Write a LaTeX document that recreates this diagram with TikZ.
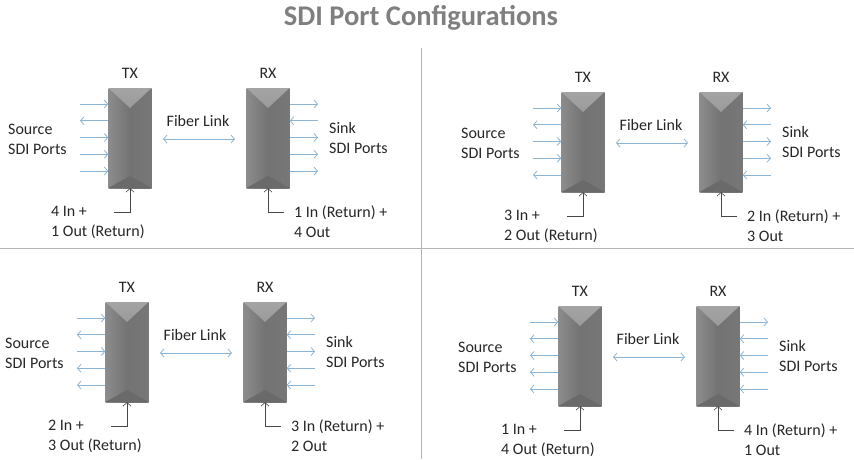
\documentclass[tikz,border=0pt]{standalone}
\usepackage{fontspec}
\setmainfont{Carlito}
\usetikzlibrary{arrows.meta}

\definecolor{portblue}{HTML}{8CB4D4}
\definecolor{rulegray}{HTML}{B4B4B4}
\definecolor{titlegray}{HTML}{7F7F7F}
\definecolor{inkgray}{HTML}{262626}
\definecolor{boxmid}{HTML}{737373}
\definecolor{boxedge}{HTML}{8C8C8C}
\definecolor{boxtop}{HTML}{A4A4A4}
\definecolor{boxbot}{HTML}{6A6A6A}

\begin{document}
\begin{tikzpicture}[x=1pt,y=-1pt,
 >={Straight Barb[length=3.5pt,width=8pt]},
 every node/.style={font=\fontsize{16}{20}\selectfont,text=inkgray,inner sep=0pt},
 box/.style={minimum width=43pt,minimum height=100pt,
   left color=boxedge,right color=boxedge!85!black,middle color=boxmid,
   path picture={
     \shade[top color=boxtop,bottom color=boxmid]
       (path picture bounding box.north west) -- (path picture bounding box.north east)
       -- ([yshift=-20pt]path picture bounding box.north) -- cycle;
     \fill[boxbot]
       (path picture bounding box.south west) -- (path picture bounding box.south east)
       -- ([yshift=12pt]path picture bounding box.south) -- cycle;}},
 port/.style={draw=portblue,line width=0.8pt},
 feed/.style={->,draw=inkgray!85,line width=0.6pt},
 rule/.style={draw=rulegray,line width=1pt},
 txt/.style={align=left,anchor=west}]
\useasboundingbox (0,0) rectangle (854,459);

\node[font=\fontsize{28.5}{34}\selectfont\bfseries,text=titlegray] (title) at (421,18) {SDI Port Configurations};
\draw[rule] (421,48) -- (421,459);
\draw[rule] (0,248) -- (854,248);

% one quadrant per configuration
\foreach \q/\ox/\oy/\nin/\nout/\dirs in
  {1/130/88/4/1/{->,<-,->,->,->},
   2/583/92/3/2/{->,<-,->,->,<-},
   3/127/302/2/3/{->,<-,->,<-,<-},
   4/580/306/1/4/{->,<-,<-,<-,<-}}{
\begin{scope}[shift={(\ox,\oy)}]
\node[box] (tx\q) at (0,50) {};
\node[box] (rx\q) at (138,50) {};
\node (txl\q) at (0,-15) {TX};
\node (rxl\q) at (138,-15) {RX};
\node[txt] (src\q) at (-122,51) {Source\\SDI Ports};
\node[txt] (snk\q) at (199,50) {Sink\\SDI Ports};
\node (fib\q) at (68,33) {Fiber Link};
\coordinate (fa\q) at (33,51);
\coordinate (fb\q) at (105,51);
\draw[port,<->] (fa\q) -- (fb\q);
\foreach \d [count=\i] in \dirs {
  \coordinate (tp\q\i) at (-50,{16+16.75*(\i-1)});
  \coordinate (rp\q\i) at (188,{16+16.75*(\i-1)});
  \draw[port,\d] (tp\q\i) -- (tx\q.west |- tp\q\i);
  \draw[port,\d] (rx\q.east |- rp\q\i) -- (rp\q\i);
}
\node[txt] (tin\q) at (-79,134) {\nin{} In +\\\nout{} Out (Return)};
\node[txt] (rin\q) at (164,134) {\nout{} In (Return) +\\\nin{} Out};
\coordinate (tk\q) at (-16,124);
\coordinate (rk\q) at (154,124);
\draw[feed] (tk\q) -| (tx\q.south);
\draw[feed] (rk\q) -| (rx\q.south);
\end{scope}}
\end{tikzpicture}
\end{document}
